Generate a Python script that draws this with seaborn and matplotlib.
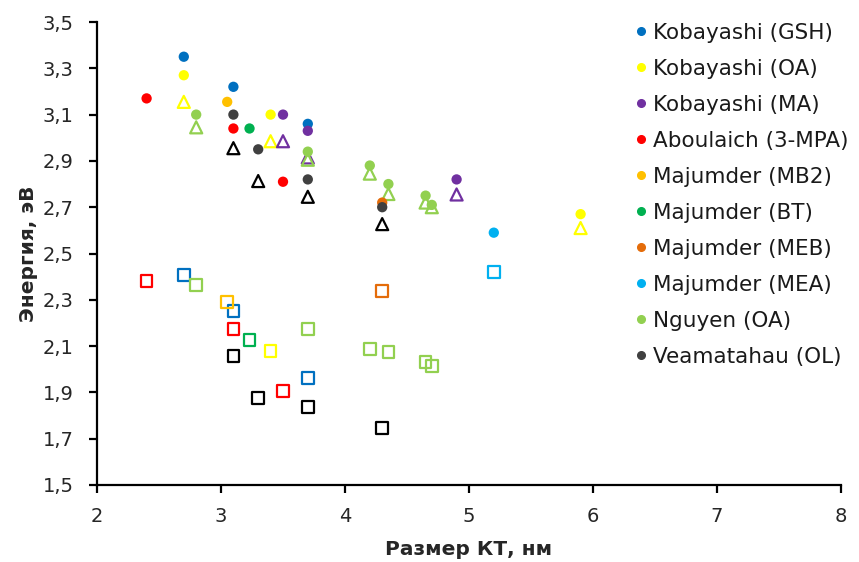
import matplotlib
matplotlib.use("Agg")
import matplotlib.pyplot as plt
import seaborn as sns
import pandas as pd
from matplotlib.ticker import FuncFormatter
from matplotlib.lines import Line2D

series_names = ["Kobayashi (GSH)", "Kobayashi (OA)", "Kobayashi (MA)", "Aboulaich (3-MPA)",
                "Majumder (MB2)", "Majumder (BT)", "Majumder (MEB)", "Majumder (MEA)",
                "Nguyen (OA)", "Veamatahau (OL)"]
series_colors = ["#0070C0", "#FFFF00", "#7030A0", "#FF0000", "#FFC000",
                 "#00B050", "#E46C0A", "#00B0F0", "#92D050", "#404040"]
open_colors = ["#0070C0", "#FFFF00", "#7030A0", "#FF0000", "#FFC000",
               "#00B050", "#E46C0A", "#00B0F0", "#92D050", "#000000"]

# filled circles
circ_series = ["Kobayashi (GSH)"] * 3 + ["Kobayashi (OA)"] * 3 + ["Kobayashi (MA)"] * 3 + \
              ["Aboulaich (3-MPA)"] * 3 + ["Majumder (MB2)", "Majumder (BT)", "Majumder (MEB)",
              "Majumder (MEA)"] + ["Nguyen (OA)"] * 6 + ["Veamatahau (OL)"] * 4
circ_x = [2.7, 3.1, 3.7, 2.7, 3.4, 5.9, 3.5, 3.7, 4.9, 2.4, 3.1, 3.5,
          3.05, 3.23, 4.3, 5.2, 2.8, 3.7, 4.2, 4.35, 4.65, 4.7, 3.1, 3.3, 3.7, 4.3]
circ_y = [3.35, 3.22, 3.06, 3.27, 3.10, 2.67, 3.10, 3.03, 2.82, 3.17, 3.04, 2.81,
          3.155, 3.04, 2.72, 2.59, 3.10, 2.94, 2.88, 2.80, 2.75, 2.71, 3.10, 2.95, 2.82, 2.70]

# open triangles
tri_series = ["Kobayashi (OA)"] * 3 + ["Kobayashi (MA)"] * 3 + ["Nguyen (OA)"] * 6 + \
             ["Veamatahau (OL)"] * 4
tri_x = [2.7, 3.4, 5.9, 3.5, 3.7, 4.9, 2.8, 3.7, 4.2, 4.35, 4.65, 4.7, 3.1, 3.3, 3.7, 4.3]
tri_y = [3.155, 2.985, 2.61, 2.985, 2.915, 2.755, 3.045, 2.905, 2.845, 2.757, 2.72, 2.70,
         2.955, 2.813, 2.745, 2.627]

# open squares
sq_series = ["Kobayashi (GSH)"] * 3 + ["Kobayashi (OA)"] + ["Aboulaich (3-MPA)"] * 3 + \
            ["Majumder (MB2)", "Majumder (BT)", "Majumder (MEB)", "Majumder (MEA)"] + \
            ["Nguyen (OA)"] * 6 + ["Veamatahau (OL)"] * 4
sq_x = [2.7, 3.1, 3.7, 3.4, 2.4, 3.1, 3.5, 3.05, 3.23, 4.3, 5.2,
        2.8, 3.7, 4.2, 4.35, 4.65, 4.7, 3.1, 3.3, 3.7, 4.3]
sq_y = [2.407, 2.252, 1.962, 2.079, 2.381, 2.174, 1.906, 2.29, 2.126, 2.338, 2.42,
        2.364, 2.174, 2.087, 2.075, 2.031, 2.014, 2.057, 1.876, 1.837, 1.746]

x_ticks = [2, 3, 4, 5, 6, 7, 8]
y_ticks = [1.5, 1.7, 1.9, 2.1, 2.3, 2.5, 2.7, 2.9, 3.1, 3.3, 3.5]

sns.set_theme(style="white")
plt.rcParams["font.family"] = ["DejaVu Sans"]

fig = plt.figure(figsize=(8.59, 5.62), dpi=100)
ax = fig.add_axes([97 / 859, 1 - 485 / 562, (841 - 97) / 859, (485 - 22) / 562])

pal_fill = dict(zip(series_names, series_colors))
pal_open = dict(zip(series_names, open_colors))

df_sq = pd.DataFrame({"series": sq_series, "x": sq_x, "y": sq_y})
df_tri = pd.DataFrame({"series": tri_series, "x": tri_x, "y": tri_y})
df_c = pd.DataFrame({"series": circ_series, "x": circ_x, "y": circ_y})

def open_scatter(df, marker, size):
    n_before = len(ax.collections)
    sns.scatterplot(data=df, x="x", y="y", hue="series", palette=pal_open,
                    hue_order=series_names, marker=marker, s=size, ax=ax,
                    legend=False, linewidth=1.6, zorder=3)
    coll = ax.collections[n_before]
    fc = coll.get_facecolors()
    coll.set_edgecolors(fc)
    coll.set_facecolors("none")
    coll.set_linewidths(1.6)

open_scatter(df_sq, "s", 68)
open_scatter(df_tri, "^", 75)
sns.scatterplot(data=df_c, x="x", y="y", hue="series", palette=pal_fill,
                hue_order=series_names, marker="o", s=55, linewidth=0, ax=ax,
                legend=False, zorder=4)

ax.set_xlim(2, 8)
ax.set_ylim(1.5, 3.5)
ax.set_xticks(x_ticks)
ax.set_yticks(y_ticks)
ax.yaxis.set_major_formatter(FuncFormatter(lambda v, p: f"{v:.1f}".replace(".", ",")))
ax.xaxis.set_major_formatter(FuncFormatter(lambda v, p: f"{v:g}"))

for s in ["top", "right"]:
    ax.spines[s].set_visible(False)
for s in ["left", "bottom"]:
    ax.spines[s].set_color("black")
    ax.spines[s].set_linewidth(1.6)
ax.tick_params(axis="both", direction="out", length=6, width=1.6, color="black",
               labelsize=14, labelcolor="#262626", left=True, bottom=True)
ax.tick_params(axis="y", pad=11)
ax.tick_params(axis="x", pad=10)

ax.set_xlabel("Размер КТ, нм", fontsize=14.5, fontweight="bold", color="#262626", labelpad=10)
ax.set_ylabel("Энергия, эВ", fontsize=14.5, fontweight="bold", color="#262626", labelpad=3)

handles = [Line2D([0], [0], marker="o", linestyle="none", markersize=5.5,
                  markerfacecolor=c, markeredgecolor=c) for c in series_colors]
leg = ax.legend(handles, series_names, loc="upper left", bbox_to_anchor=(622 / 859, 1 - 14 / 562),
                bbox_transform=fig.transFigure, frameon=False, fontsize=15.5,
                labelspacing=0.745, handletextpad=0.05, handlelength=1.0, borderaxespad=0)
for t in leg.get_texts():
    t.set_color("#1a1a1a")

fig.savefig("out.png", dpi=100)
